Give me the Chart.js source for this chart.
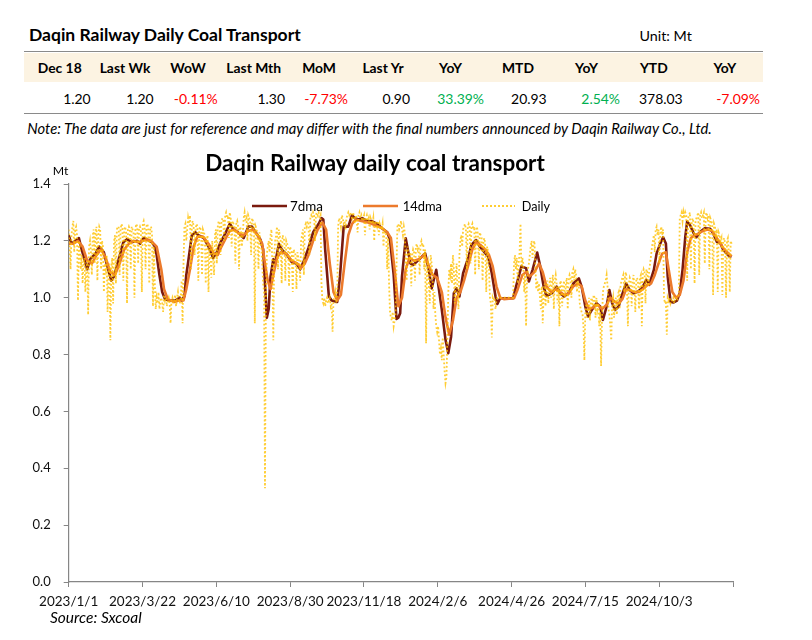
<!DOCTYPE html>
<html><head><meta charset="utf-8">
<script src="https://cdn.jsdelivr.net/npm/chart.js@4.4.1/dist/chart.umd.min.js"></script>
<style>
html,body{margin:0;padding:0;background:#fff;width:812px;height:640px;overflow:hidden;font-family:Lato,"Liberation Sans",sans-serif;color:#000}
.t{position:absolute;white-space:nowrap;line-height:1;font-family:Lato,"Liberation Sans",sans-serif}
#hdrbg{position:absolute;left:24px;top:52.5px;width:739px;height:29.5px;background:#FCF3E2}
.hl{position:absolute;left:24px;width:739px;height:0;border-top:1.5px solid #8a8a8a}
#wrap{position:absolute;left:0;top:140px;width:812px;height:500px}
</style></head><body>
<div id="hdrbg"></div>
<div class="hl" style="top:51px"></div>
<div class="hl" style="top:112.5px"></div>
<div id="wrap"><canvas id="c" width="812" height="500"></canvas></div>
<script>
// ---------- data ----------
const tableTitle = 'Daqin Railway Daily Coal Transport';
const unitText = 'Unit: Mt';
const tableHeaders = ['Dec 18','Last Wk','WoW','Last Mth','MoM','Last Yr','YoY','MTD','YoY','YTD','YoY'];
const tableValues = ['1.20','1.20','-0.11%','1.30','-7.73%','0.90','33.39%','20.93','2.54%','378.03','-7.09%'];
const tableTone = ['n','n','neg','n','neg','n','pos','n','pos','n','neg'];
const noteText = 'Note: The data are just for reference and may differ with the final numbers announced by Daqin Railway Co., Ltd.';
const chartTitle = 'Daqin Railway daily coal transport';
const yUnit = 'Mt';
const sourceText = 'Source: Sxcoal';
const seriesNames = ['7dma','14dma','Daily'];
const xTickLabels = ['2023/1/1','2023/3/22','2023/6/10','2023/8/30','2023/11/18','2024/2/6','2024/4/26','2024/7/15','2024/10/3'];

// daily values, one per day from 2023/1/1 (day index 0) to 2024/12/18
const dailyVal = [
1.24,1.18,1.10,1.22,1.25,1.27,1.16,1.24,1.25,1.22,
0.99,1.20,1.18,1.10,1.15,1.05,1.12,1.14,1.02,1.10,
1.13,0.94,1.18,1.20,1.16,1.08,1.22,1.24,1.12,1.23,
1.25,1.06,1.22,1.25,1.24,1.10,1.20,1.18,1.02,1.12,
1.10,1.15,0.95,1.08,1.12,0.85,1.10,1.14,0.98,1.20,
1.22,1.05,1.24,1.25,1.25,1.08,1.24,1.26,1.25,1.06,
1.24,1.25,1.23,0.98,1.24,1.25,1.24,1.10,1.25,1.24,
1.23,1.00,1.24,1.26,1.25,1.12,1.24,1.25,1.24,1.02,
1.26,1.27,1.25,1.10,1.25,1.26,1.24,1.05,1.24,1.25,
1.22,0.97,1.18,1.05,0.96,1.00,0.98,1.02,0.96,0.99,
1.00,0.98,0.95,1.01,0.99,1.00,0.97,0.99,1.00,
0.98,0.91,0.99,1.00,0.98,0.99,1.01,0.97,1.00,1.02,
0.99,0.98,1.00,1.06,0.91,1.12,1.25,1.26,1.20,1.24,
1.28,1.26,1.29,1.10,1.26,1.27,1.25,1.15,1.24,1.26,
1.25,1.06,1.24,1.25,1.23,1.08,1.24,1.23,1.22,1.05,
1.20,1.22,1.02,1.18,1.16,1.07,1.20,1.15,1.08,1.22,
1.24,1.12,1.25,1.27,1.26,1.15,1.27,1.28,1.27,1.20,
1.29,1.30,1.28,1.29,1.21,1.30,1.28,1.18,1.27,1.26,
1.25,1.12,1.26,1.27,1.25,1.10,1.25,1.24,1.18,1.22,
1.28,1.30,1.27,1.28,1.20,1.29,1.28,1.27,1.15,1.28,
1.27,1.26,0.91,1.25,1.24,1.22,1.10,1.23,1.20,1.18,
1.12,1.05,1.02,0.33,1.00,1.15,1.18,1.20,1.16,1.22,
1.24,1.10,0.85,1.15,1.20,1.22,1.25,1.10,1.24,1.22,
1.20,1.05,1.22,1.21,1.20,1.06,1.20,1.19,1.18,1.04,
1.18,1.17,1.16,1.02,1.17,1.16,1.15,1.03,1.16,1.14,
1.12,1.06,1.20,1.22,1.24,1.08,1.25,1.26,1.25,1.27,
1.26,1.15,1.28,1.29,1.28,1.30,1.29,1.20,1.29,1.30,
1.29,1.30,1.28,1.29,1.05,0.99,0.98,1.00,0.97,0.99,
1.00,0.98,0.99,1.00,0.97,0.98,0.88,0.99,1.00,
1.02,0.99,1.00,1.25,1.28,1.27,1.25,1.29,1.28,1.26,
1.27,1.24,1.28,1.29,1.30,1.29,1.30,1.29,1.28,1.30,
1.29,1.26,1.29,1.28,1.23,1.29,1.30,1.28,1.29,1.27,
1.28,1.29,1.22,1.28,1.29,1.27,1.28,1.24,1.28,1.27,
1.26,1.28,1.20,1.27,1.26,1.25,1.27,1.22,1.26,1.25,
1.24,1.26,1.18,1.24,1.23,1.22,1.10,1.21,1.05,0.95,
0.93,0.92,0.95,0.90,0.92,0.94,1.10,1.25,1.26,1.24,
1.25,1.27,1.24,1.22,1.25,1.23,1.12,1.06,1.18,1.15,
1.14,1.16,1.04,1.15,1.17,1.16,1.06,1.18,1.19,1.17,
1.18,1.08,1.19,1.20,1.18,1.19,1.10,1.17,0.84,1.10,
1.12,1.05,0.98,1.15,1.12,1.08,0.96,1.02,0.94,0.90,
0.88,0.90,0.85,0.80,0.82,0.78,0.86,0.80,0.74,0.70,
0.72,0.85,1.02,1.10,1.08,1.12,1.05,1.15,1.10,0.98,
1.08,1.12,1.02,0.96,1.15,1.20,1.22,1.18,1.24,1.25,
1.26,1.24,1.10,1.25,1.26,1.25,1.12,1.25,1.26,1.24,
1.25,1.08,1.24,1.25,1.22,1.10,1.23,1.22,1.21,1.06,
1.20,1.21,1.18,1.02,1.18,1.16,1.10,1.00,0.98,0.86,
1.00,0.99,1.00,0.96,0.99,1.00,1.00,1.00,1.00,1.00,
1.00,1.00,1.00,1.00,1.00,1.00,1.00,1.00,1.00,
1.00,1.00,1.00,1.00,1.12,1.15,1.10,1.14,1.05,1.12,
1.16,1.26,1.10,1.14,1.12,1.02,1.08,0.90,1.06,1.10,
1.12,1.15,1.18,1.20,1.14,1.19,1.20,1.12,1.03,1.06,
1.02,1.05,1.00,0.96,1.04,0.91,1.02,1.05,0.97,1.03,
1.06,0.98,1.04,1.07,1.00,1.05,1.08,0.96,1.06,1.08,
1.05,0.98,1.04,0.90,1.06,1.05,0.97,1.04,1.06,1.00,
1.05,1.07,0.96,1.06,1.08,1.07,1.00,1.09,1.10,1.06,
1.10,1.08,1.02,1.06,1.04,0.98,0.96,0.95,0.94,0.90,
0.78,0.95,0.98,0.93,0.96,1.00,0.92,0.99,1.00,0.97,
1.01,1.00,0.93,1.00,0.96,0.98,0.90,0.95,0.76,0.92,
1.02,1.04,1.05,1.06,1.08,1.04,0.96,0.94,0.90,0.85,
0.98,1.00,0.93,0.97,1.00,0.94,1.01,1.02,0.96,1.04,
1.06,1.07,1.08,1.02,1.08,1.09,1.03,0.90,1.05,1.07,
1.06,0.97,1.05,1.08,1.04,0.95,1.06,1.07,1.05,0.96,
1.07,1.08,0.90,1.08,1.10,1.09,0.98,1.10,1.09,1.04,
1.10,1.12,1.15,1.18,1.20,1.22,1.16,1.24,1.25,1.22,
1.24,1.12,1.23,1.25,1.22,1.24,1.00,0.98,0.99,0.87,
1.00,0.99,1.00,0.98,0.99,0.99,1.00,0.98,1.00,
1.00,0.99,1.00,1.02,1.28,1.29,1.30,1.27,1.30,1.28,
1.30,1.29,1.06,1.28,1.29,1.30,1.10,1.27,1.28,1.26,
1.05,1.27,1.28,1.29,1.30,1.08,1.29,1.30,1.28,1.29,
1.30,1.12,1.29,1.30,1.28,1.29,1.10,1.28,1.27,1.26,
1.01,1.26,1.25,1.22,1.24,1.02,1.23,1.22,1.20,1.21,
1.01,1.20,1.21,1.19,1.00,1.20,1.21,1.16,1.02,1.20,
1.19];

// 7-day moving average, read at day indices
const ma7Day = [0,3,9,11,14,20,23,29,33,38,41,46,49,54,59,63,68,74,77,81,84,90,93,95,98,101,104,110,115,120,122,125,127,129,133,137,140,146,151,156,160,164,169,174,178,183,189,194,198,201,207,210,212,214,216,218,221,223,227,230,236,241,246,250,254,259,264,270,273,275,277,281,284,290,293,297,302,306,309,313,317,322,327,333,338,344,347,351,354,356,358,360,364,369,372,378,385,389,392,397,399,403,407,410,413,416,419,422,426,432,435,440,444,450,453,457,461,463,466,480,484,489,494,497,501,506,509,513,516,522,527,531,535,540,545,551,554,558,561,565,570,574,577,581,584,587,590,594,597,602,606,610,615,619,624,627,632,635,639,642,645,647,650,653,657,660,663,666,668,671,675,678,682,687,693,696,700,704,707,713,716];
const ma7Val = [1.22,1.19,1.205,1.21,1.17,1.10,1.135,1.155,1.18,1.16,1.12,1.06,1.075,1.135,1.195,1.206,1.195,1.20,1.19,1.21,1.205,1.195,1.18,1.15,1.08,1.02,0.995,0.99,0.99,1.0,0.99,1.005,1.08,1.125,1.22,1.23,1.22,1.21,1.18,1.14,1.16,1.195,1.225,1.26,1.24,1.23,1.21,1.25,1.25,1.235,1.205,1.17,1.05,0.93,0.96,1.075,1.135,1.12,1.19,1.17,1.15,1.125,1.12,1.10,1.13,1.175,1.23,1.26,1.28,1.275,1.17,1.005,0.99,0.985,1.075,1.25,1.25,1.29,1.28,1.275,1.28,1.27,1.27,1.26,1.245,1.23,1.205,1.08,0.925,0.93,0.945,1.075,1.209,1.121,1.115,1.133,1.156,1.098,1.033,1.098,1.05,0.957,0.852,0.805,0.863,1.016,1.033,1.004,1.086,1.145,1.186,1.203,1.18,1.156,1.145,1.086,1.004,0.978,0.998,0.998,1.05,1.11,1.104,1.057,1.098,1.159,1.115,1.039,1.006,1.016,1.039,1.016,1.004,1.016,1.05,1.068,1.039,0.969,0.934,0.957,0.981,0.969,0.922,0.969,1.027,0.981,0.957,0.969,1.004,1.05,1.027,1.016,1.022,1.033,1.063,1.045,1.098,1.156,1.191,1.213,1.191,1.074,0.986,0.983,0.99,1.016,1.098,1.215,1.268,1.256,1.227,1.213,1.232,1.244,1.242,1.227,1.197,1.191,1.168,1.147,1.145];

// 14-day moving average, read at day indices
const ma14Day = [0,5,10,15,20,25,30,35,40,45,50,55,60,65,70,75,80,85,89,95,100,103,107,114,119,124,127,131,135,139,145,151,157,161,165,169,174,179,184,189,194,199,204,209,212,215,218,221,225,229,235,241,247,251,255,259,264,269,274,278,282,286,290,294,298,302,306,310,316,323,331,338,344,348,352,356,360,364,368,373,378,384,388,393,398,403,407,411,415,419,423,427,432,436,440,445,450,454,458,462,466,470,481,485,490,494,498,503,508,512,516,521,526,531,535,540,545,550,554,558,562,566,571,576,581,585,590,594,598,602,607,611,616,620,625,629,633,637,641,645,648,652,656,660,664,668,672,676,680,685,690,695,699,703,708,713,716];
const ma14Val = [1.19,1.19,1.20,1.18,1.13,1.12,1.15,1.17,1.14,1.09,1.08,1.12,1.17,1.19,1.20,1.195,1.20,1.205,1.20,1.18,1.10,1.03,0.995,0.985,0.99,0.99,1.03,1.10,1.18,1.215,1.215,1.19,1.155,1.15,1.18,1.205,1.235,1.24,1.225,1.22,1.235,1.24,1.22,1.19,1.12,1.06,1.03,1.08,1.14,1.16,1.155,1.13,1.12,1.105,1.12,1.15,1.20,1.24,1.265,1.24,1.12,1.02,0.99,1.01,1.12,1.22,1.26,1.275,1.27,1.265,1.255,1.245,1.23,1.21,1.10,0.97,1.00,1.10,1.14,1.13,1.135,1.15,1.12,1.08,1.07,1.02,0.93,0.87,0.92,1.00,1.02,1.06,1.12,1.17,1.195,1.185,1.17,1.15,1.11,1.04,1.00,0.995,0.998,1.03,1.08,1.09,1.075,1.09,1.12,1.09,1.04,1.02,1.03,1.02,1.01,1.015,1.04,1.05,1.04,0.99,0.96,0.965,0.975,0.96,0.975,1.00,0.985,0.98,0.995,1.03,1.025,1.02,1.02,1.03,1.045,1.05,1.08,1.12,1.155,1.16,1.10,1.02,1.00,1.01,1.06,1.16,1.21,1.22,1.225,1.235,1.24,1.235,1.215,1.195,1.17,1.155,1.145];

// ---------- styles ----------
const FONT = 'Lato, "Liberation Sans", sans-serif';
const COLORS = { ma7: '#7A1A0E', ma14: '#EC7A2C', daily: 'rgba(255,192,0,0.8)', axis: '#868686', neg: '#FF0000', pos: '#00B050' };

// ---------- table (HTML) ----------
function measureDiv(s, size, weight, style){
  const d = document.createElement('div');
  d.className = 't'; d.textContent = s;
  d.style.fontSize = size + 'px'; d.style.fontWeight = weight; d.style.fontStyle = style;
  document.body.appendChild(d);
  return d;
}
function fitSize(s, base, weight, style, width){
  const d = measureDiv(s, base, weight, style);
  const w = d.getBoundingClientRect().width; d.remove();
  return base * width / w;
}
function place(s, x, yc, size, opt){
  const d = measureDiv(s, size, opt.bold ? '700' : '400', opt.italic ? 'italic' : 'normal');
  if (opt.color) d.style.color = opt.color;
  const w = d.getBoundingClientRect().width;
  const left = opt.align === 'right' ? x - w : opt.align === 'center' ? x - w / 2 : x;
  d.style.left = left + 'px';
  d.style.top = (yc - 0.527 * size) + 'px';
}
const titleSize = fitSize(tableTitle, 16, '700', 'normal', 272);
place(tableTitle, 29, 35, titleSize, {bold: true});
place(unitText, 639.5, 36.2, fitSize(unitText, 14, '400', 'normal', 52.3), {});
const hdrCenters = [59.7,125,188,253.7,319,383,450.5,518,586.5,653.8,724.8];
const valRights = [90.7,153.7,217.7,285,348,410,484,546.7,620,682.7,760];
const hdrSize = fitSize('Dec 18', 14, '700', 'normal', 44);
const valSize = fitSize('378.03', 14, '400', 'normal', 43.7);
tableHeaders.forEach((h, i) => place(h, hdrCenters[i], 68.3, hdrSize, {bold: true, align: 'center'}));
tableValues.forEach((v, i) => place(v, valRights[i], 99, valSize, {align: 'right',
  color: tableTone[i] === 'neg' ? COLORS.neg : tableTone[i] === 'pos' ? COLORS.pos : '#000'}));
place(noteText, 27.3, 129, fitSize(noteText, 14, '400', 'italic', 685.4), {italic: true});

// ---------- chart ----------
function fitCanvasFont(ctx, s, style, width, base){
  ctx.font = style + ' ' + base + 'px ' + FONT;
  const w = ctx.measureText(s).width;
  const size = base * width / w;
  ctx.font = style + ' ' + size + 'px ' + FONT;
  return size;
}
const extras = {
  id: 'extras',
  afterDraw(chart){
    const ctx = chart.ctx; const ca = chart.chartArea;
    ctx.save();
    ctx.fillStyle = '#000';
    ctx.textBaseline = 'alphabetic';
    // chart title
    fitCanvasFont(ctx, chartTitle, 'bold', 340, 19);
    ctx.textAlign = 'center';
    ctx.fillText(chartTitle, 375, 30.7);
    // unit
    ctx.textAlign = 'left';
    fitCanvasFont(ctx, yUnit, 'normal', 15.6, 13);
    ctx.fillText(yUnit, ca.left - 16, 35);
    // legend
    const leg = [
      {x0: 252, x1: 287, tx: 290, w: 33, color: COLORS.ma7, width: 2.6, dash: []},
      {x0: 363, x1: 398, tx: 402.7, w: 39.3, color: COLORS.ma14, width: 2.6, dash: []},
      {x0: 482, x1: 515, tx: 521.7, w: 28.3, color: COLORS.daily, width: 2, dash: [2, 2]}
    ];
    leg.forEach((l, i) => {
      ctx.beginPath();
      ctx.setLineDash(l.dash);
      ctx.strokeStyle = l.color; ctx.lineWidth = l.width; ctx.lineCap = 'butt';
      ctx.moveTo(l.x0, 66); ctx.lineTo(l.x1, 66); ctx.stroke();
      ctx.setLineDash([]);
      fitCanvasFont(ctx, seriesNames[i], 'normal', l.w, 13);
      ctx.fillStyle = '#000';
      ctx.fillText(seriesNames[i], l.tx, 71);
    });
    // source
    fitCanvasFont(ctx, sourceText, 'italic', 91.7, 13.5);
    ctx.fillText(sourceText, 50, 483.3);
    ctx.restore();
  }
};

const toPts = (xs, ys) => xs.map((x, i) => ({x: x, y: ys[i]}));
new Chart(document.getElementById('c'), {
  type: 'line',
  data: {
    datasets: [
      {label: seriesNames[0], data: toPts(ma7Day, ma7Val), borderColor: COLORS.ma7, borderWidth: 2.6,
       pointRadius: 0, tension: 0, borderJoinStyle: 'round', order: 3},
      {label: seriesNames[1], data: toPts(ma14Day, ma14Val), borderColor: COLORS.ma14, borderWidth: 2.6,
       pointRadius: 0, tension: 0, borderJoinStyle: 'round', order: 2},
      {label: seriesNames[2], data: dailyVal.map((v, i) => ({x: i, y: v})), borderColor: COLORS.daily,
       borderWidth: 1.8, borderDash: [1.8, 2.2], pointRadius: 0, tension: 0, order: 1}
    ]
  },
  options: {
    responsive: false, animation: false, devicePixelRatio: 1,
    layout: {padding: {top: 44, right: 79, bottom: 0, left: 0}},
    plugins: {legend: {display: false}, title: {display: false}, tooltip: {enabled: false}},
    scales: {
      x: {
        type: 'linear', min: 0, max: 717.5,
        afterFit(s){ s.height = 58; },
        grid: {drawOnChartArea: false, drawTicks: true, tickLength: 5, color: COLORS.axis},
        border: {display: true, color: COLORS.axis, width: 1.2},
        ticks: {stepSize: 80, includeBounds: false, autoSkip: false, maxRotation: 0, padding: 6.5,
          color: '#111', font: {family: FONT, size: 13.5},
          callback: (v) => xTickLabels[Math.round(v / 80)] || ''}
      },
      y: {
        min: 0, max: 1.4,
        afterFit(s){ s.width = 68.7; },
        grid: {drawOnChartArea: false, drawTicks: true, tickLength: 5, color: COLORS.axis},
        border: {display: true, color: COLORS.axis, width: 1.2},
        ticks: {stepSize: 0.2, padding: 13, color: '#111', font: {family: FONT, size: 13},
          callback: (v) => v.toFixed(1)}
      }
    }
  },
  plugins: [extras]
});
</script>
</body></html>
